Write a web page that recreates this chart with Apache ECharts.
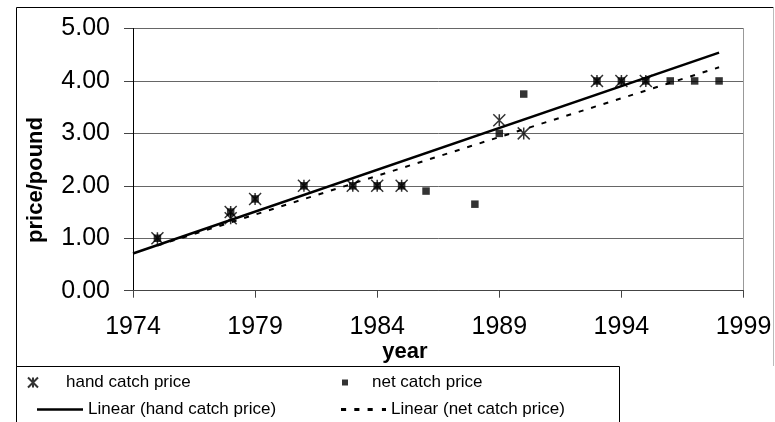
<!DOCTYPE html>
<html>
<head>
<meta charset="utf-8">
<script src="https://cdn.jsdelivr.net/npm/echarts@6/dist/echarts.min.js"></script>
<style>html,body{margin:0;padding:0;background:#fff}#c{width:775px;height:422px}</style>
</head>
<body>
<div id="c"></div>
<script>
// ---- data ----
const handYears  = [1975, 1978, 1978, 1979, 1981, 1983, 1984, 1985, 1989, 1990, 1993, 1994, 1995];
const handPrices = [1.00, 1.50, 1.38, 1.75, 2.00, 2.00, 2.00, 2.00, 3.25, 3.00, 4.00, 4.00, 4.00];
const netYears   = [1975, 1978, 1979, 1981, 1983, 1984, 1985, 1986, 1988, 1989, 1990, 1993, 1994, 1995, 1996, 1997, 1998];
const netPrices  = [1.00, 1.50, 1.75, 2.00, 2.00, 2.00, 2.00, 1.90, 1.65, 3.00, 3.75, 4.00, 4.00, 4.00, 4.00, 4.00, 4.00];
const handTrendYears  = [1974, 1998];
const handTrendPrices = [0.71, 4.54];
const netTrendYears   = [1975, 1998];
const netTrendPrices  = [0.86, 4.26];
const xTickLabels = [1974, 1979, 1984, 1989, 1994, 1999];
const yTickLabels = [0, 1, 2, 3, 4, 5];
const seriesNames = ['hand catch price', 'net catch price', 'Linear (hand catch price)', 'Linear (net catch price)'];
const xTitle = 'year';
const yTitle = 'price/pound';

const zip = (xs, ys) => xs.map((x, i) => [x, ys[i]]);
const FONT = "'Liberation Sans', Arial, sans-serif";
const STAR = 'path://M0,0L10,10M10,0L0,10M5,0L5,10';
const SQUARE = 'path://M0,0h10v10h-10z';
const SOLID_ICON = 'path://M0,0h48v10h-48z';
const DASH_ICON = 'path://M0,0h5v10h-5z M13,0h5v10h-5z M26,0h5v10h-5z M40,0h4v10h-4z';

const chart = echarts.init(document.getElementById('c'), null, {renderer: 'canvas'});

function legendOne(item, left, top, w, h, keep) {
  return {
    data: [item], left: left, top: top, itemWidth: w, itemHeight: h,
    orient: 'horizontal', padding: 0, selectedMode: false, symbolKeepAspect: keep,
    textStyle: {fontFamily: FONT, fontSize: 17, color: '#000'}
  };
}

chart.setOption({
  animation: false,
  backgroundColor: '#fff',
  grid: {left: 133, right: 31.5, top: 28.5, bottom: 131.3, containLabel: false},
  xAxis: {
    type: 'value', min: xTickLabels[0], max: xTickLabels[xTickLabels.length - 1],
    axisLine: {show: true, onZero: false, lineStyle: {color: '#444', width: 1}},
    axisTick: {show: true, inside: false, length: 7, customValues: xTickLabels, lineStyle: {color: '#444'}},
    axisLabel: {customValues: xTickLabels, margin: 24, fontFamily: FONT, fontSize: 25, color: '#000',
                formatter: v => String(v)},
    splitLine: {show: false}
  },
  yAxis: [{
    type: 'value', min: yTickLabels[0], max: yTickLabels[yTickLabels.length - 1], interval: 1,
    axisLine: {show: true, onZero: false, lineStyle: {color: '#000', width: 1}},
    axisTick: {show: true, inside: false, length: 9, lineStyle: {color: '#444'}},
    axisLabel: {margin: 23, fontFamily: FONT, fontSize: 25, color: '#000', formatter: v => v.toFixed(2)},
    splitLine: {show: true, lineStyle: {color: '#666', width: 1}}
  }, {
    type: 'value', position: 'right', min: yTickLabels[0], max: yTickLabels[yTickLabels.length - 1], interval: 1,
    axisLine: {show: true, onZero: false, lineStyle: {color: '#999', width: 1}},
    axisTick: {show: false}, axisLabel: {show: false}, splitLine: {show: false}
  }],
  legend: [
    legendOne({name: seriesNames[0], icon: STAR}, 27, 374, 56, 10, true),
    legendOne({name: seriesNames[1], icon: SQUARE, itemStyle: {color: '#000'}}, 342, 374, 44, 6, true),
    legendOne({name: seriesNames[2], icon: SOLID_ICON, itemStyle: {color: '#000', borderWidth: 0}}, 37, 401, 46, 2.5, false),
    legendOne({name: seriesNames[3], icon: DASH_ICON, itemStyle: {color: '#000', borderWidth: 0}}, 341, 401, 45, 3, false)
  ],
  series: [
    {
      name: seriesNames[2], type: 'line', data: zip(handTrendYears, handTrendPrices),
      showSymbol: false, symbol: 'none', lineStyle: {color: '#000', width: 2.5}, z: 2,
      itemStyle: {color: '#000'}
    },
    {
      name: seriesNames[3], type: 'line', data: zip(netTrendYears, netTrendPrices),
      showSymbol: false, symbol: 'none', lineStyle: {color: '#000', width: 2, type: [5, 8]}, z: 2,
      itemStyle: {color: '#000'}
    },
    {
      name: seriesNames[1], type: 'scatter', data: zip(netYears, netPrices),
      symbol: 'rect', symbolSize: 7.5, itemStyle: {color: '#000'}, z: 3
    },
    {
      name: seriesNames[0], type: 'scatter', data: zip(handYears, handPrices),
      symbol: STAR, symbolSize: 12, symbolKeepAspect: true,
      itemStyle: {color: 'rgba(0,0,0,0)', borderColor: '#000', borderWidth: 1.5}, z: 4
    }
  ],
  graphic: [
    {type: 'polyline', silent: true, z: 0, shape: {points: [[16.5, 430], [16.5, 7.5], [773.5, 7.5]]},
     style: {stroke: '#000', lineWidth: 1, fill: null}},
    {type: 'line', silent: true, z: 0, shape: {x1: 773.5, y1: 7.5, x2: 773.5, y2: 366}, style: {stroke: '#bbb', lineWidth: 1}},
    {type: 'rect', silent: true, z: 0, shape: {x: 16.5, y: 366.5, width: 603, height: 80},
     style: {stroke: '#000', lineWidth: 1, fill: '#fff'}},
    {type: 'text', silent: true, x: 405, y: 352,
     style: {text: xTitle, font: "bold 22px 'Liberation Sans', Arial, sans-serif", fill: '#000', textAlign: 'center', textVerticalAlign: 'middle'}},
    {type: 'text', silent: true, x: 36, y: 180, rotation: Math.PI / 2,
     style: {text: yTitle, font: "bold 22px 'Liberation Sans', Arial, sans-serif", fill: '#000', textAlign: 'center', textVerticalAlign: 'middle'}}
  ]
});
</script>
</body>
</html>
